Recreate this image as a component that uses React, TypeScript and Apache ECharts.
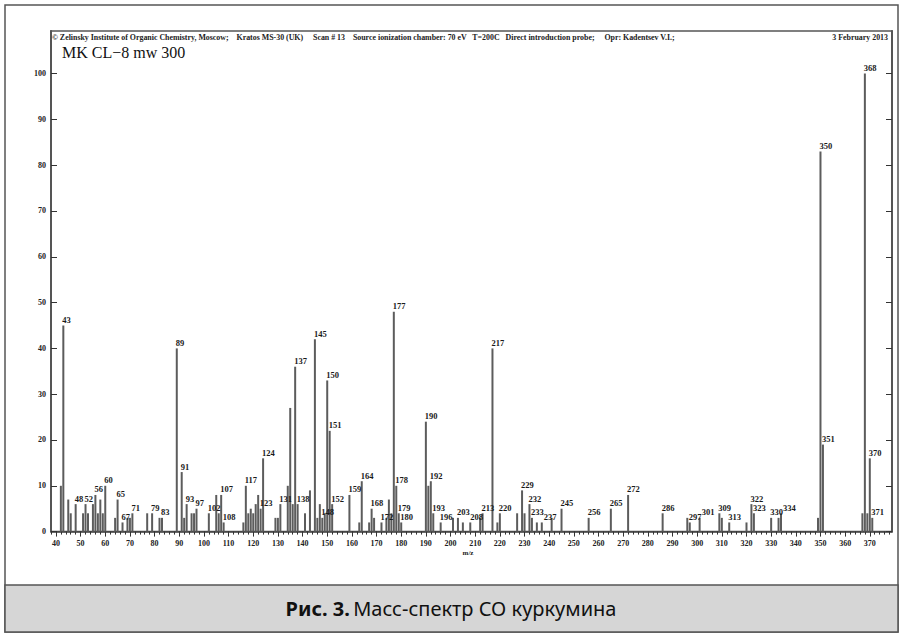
import React, { useEffect, useRef } from "react";
import * as echarts from "echarts";

const MZ = [
  42, 43, 45, 46, 48, 51, 52, 53, 55, 56, 57, 58, 59, 60, 64, 65, 67, 69, 70, 71,
  77, 79, 82, 83, 89, 91, 92, 93, 95, 96, 97, 102, 105, 106, 107, 108, 116, 117,
  118, 119, 120, 121, 122, 123, 124, 129, 130, 131, 134, 135, 136, 137, 138, 141,
  143, 145, 146, 147, 148, 149, 150, 151, 152, 159, 163, 164, 167, 168, 169, 172,
  174, 175, 176, 177, 178, 179, 180, 190, 191, 192, 193, 196, 201, 203, 205, 208,
  212, 213, 217, 219, 220, 227, 229, 230, 232, 233, 235, 237, 241, 245, 256, 265,
  272, 286, 296, 297, 301, 309, 310, 313, 320, 322, 323, 330, 333, 334, 349, 350,
  351, 367, 368, 369, 370, 371,
];
const INTENSITY = [
  10, 45, 7, 4, 6, 4, 6, 4, 6, 8, 4, 7, 4, 10, 3, 7, 2, 3, 3, 4,
  4, 4, 3, 3, 40, 13, 3, 6, 4, 4, 5, 4, 8, 4, 8, 2, 2, 10,
  4, 5, 4, 6, 8, 5, 16, 3, 3, 6, 10, 27, 6, 36, 6, 4,
  9, 42, 3, 6, 3, 4, 33, 22, 6, 8, 2, 11, 2, 5, 3, 2,
  3, 7, 4, 48, 10, 4, 2, 24, 10, 11, 4, 2, 3, 3, 2, 2,
  3, 4, 40, 2, 4, 4, 9, 4, 6, 3, 2, 2, 3, 5, 3, 5,
  8, 4, 3, 2, 3, 4, 3, 2, 2, 6, 4, 3, 3, 4, 3, 83,
  19, 4, 100, 4, 16, 3,
];
const LABELED = [
  43, 48, 52, 56, 60, 65, 67, 71, 79, 83, 89, 91, 93, 97, 102, 107, 108, 117, 123,
  124, 131, 137, 138, 145, 148, 150, 151, 152, 159, 164, 168, 172, 177, 178, 179,
  180, 190, 192, 193, 196, 203, 208, 213, 217, 220, 229, 232, 233, 237, 245, 256,
  265, 272, 286, 297, 301, 309, 313, 322, 323, 330, 334, 350, 351, 368, 370, 371,
];
const X_MAJOR_TICKS = [
  40, 50, 60, 70, 80, 90, 100, 110, 120, 130, 140, 150, 160, 170, 180, 190, 200,
  210, 220, 230, 240, 250, 260, 270, 280, 290, 300, 310, 320, 330, 340, 350, 360, 370,
];
const Y_TICKS = [0, 10, 20, 30, 40, 50, 60, 70, 80, 90, 100];

const HEADER =
  "\u00A9 Zelinsky Institute of Organic Chemistry, Moscow;    Kratos MS-30 (UK)     Scan # 13    Source ionization chamber: 70 eV   T=200C   Direct introduction probe;     Opr: Kadentsev V.I.;";
const DATE = "3 February 2013";
const TITLE = "MK CL\u22128 mw 300";
const X_NAME = "m/z";

const X_MIN = 38;
const X_MAX = 379;
const Y_MAX = 109.3;
const GRID = { left: 51, right: 10, top: 31, bottom: 101.4 };
const W = 902;
const H = 633;
const LABEL_FONT = 8.5;

export default function App() {
  const ref = useRef<HTMLDivElement>(null);
  useEffect(() => {
    if (!ref.current) return;
    const chart = echarts.init(ref.current, undefined, { renderer: "svg" });
    const minor: number[] = [];
    for (let v = X_MIN; v <= X_MAX - 1; v += 2) minor.push(v);

    // approximate pixel mapping, only used to nudge colliding labels sideways
    const plotW = W - GRID.left - GRID.right;
    const plotH = H - GRID.top - GRID.bottom;
    const px = (m: number) => GRID.left + ((m - X_MIN) / (X_MAX - X_MIN)) * plotW;
    const py = (v: number) => H - GRID.bottom - (v / Y_MAX) * plotH;
    const placed: { x0: number; x1: number; y0: number; y1: number }[] = [];

    const data = MZ.map((m, i) => {
      const v = INTENSITY[i];
      const item: any = { value: [m, v] };
      if (LABELED.includes(m)) {
        const txt = String(m);
        const w = txt.length * LABEL_FONT * 0.5;
        const y1 = py(v) - 1;
        const y0 = y1 - (LABEL_FONT - 2);
        let dx = 0;
        const hit = (d: number) =>
          placed.some(
            (b) => px(m) + d < b.x1 && px(m) + d + w > b.x0 && y0 < b.y1 && y1 > b.y0
          );
        while (dx < 6 && hit(dx)) dx += 1;
        placed.push({ x0: px(m) + dx, x1: px(m) + dx + w, y0, y1 });
        item.label = { show: true, formatter: txt, position: [dx, -1] };
      }
      return item;
    });
    const serif = "Liberation Serif";
    chart.setOption({
      animation: false,
      backgroundColor: "#ffffff",
      grid: {
        ...GRID,
        show: true,
        borderColor: "#555",
        borderWidth: 1.5,
        containLabel: false,
      },
      xAxis: [
        {
          type: "value",
          min: X_MIN,
          max: X_MAX,
          position: "bottom",
          axisLine: { show: true, onZero: false, lineStyle: { color: "#444", width: 1.5 } },
          axisTick: { show: true, customValues: X_MAJOR_TICKS, length: 5, lineStyle: { color: "#333", width: 1 } },
          axisLabel: {
            show: true,
            customValues: X_MAJOR_TICKS,
            margin: 8,
            fontFamily: serif,
            fontWeight: "bold",
            fontSize: 8,
            color: "#222",
          },
          splitLine: { show: false },
        },
        {
          type: "value",
          min: X_MIN,
          max: X_MAX,
          position: "bottom",
          axisLine: { show: false, onZero: false },
          axisTick: { show: true, customValues: minor, length: 3, lineStyle: { color: "#333", width: 1 } },
          axisLabel: { show: false },
          splitLine: { show: false },
        },
      ],
      yAxis: [
        {
          type: "value",
          min: 0,
          max: Y_MAX,
          position: "left",
          axisLine: { show: true, onZero: false, lineStyle: { color: "#555", width: 2 } },
          axisTick: { show: true, inside: true, customValues: Y_TICKS, length: 6, lineStyle: { color: "#333", width: 1 } },
          axisLabel: {
            show: true,
            customValues: Y_TICKS,
            margin: 5,
            fontFamily: serif,
            fontWeight: "bold",
            fontSize: 8,
            color: "#222",
          },
          splitLine: { show: false },
        },
        {
          type: "value",
          min: 0,
          max: Y_MAX,
          position: "right",
          axisLine: { show: true, onZero: false, lineStyle: { color: "#555", width: 2 } },
          axisTick: { show: true, inside: true, customValues: Y_TICKS, length: 6, lineStyle: { color: "#333", width: 1 } },
          axisLabel: { show: false },
          splitLine: { show: false },
        },
      ],
      series: [
        {
          type: "bar",
          xAxisIndex: 0,
          yAxisIndex: 0,
          barWidth: 2,
          itemStyle: { color: "#5c5c5c" },
          label: {
            show: false,
            position: [0, -1],
            align: "left",
            verticalAlign: "bottom",
            fontFamily: serif,
            fontWeight: "bold",
            fontSize: LABEL_FONT,
            color: "#1a1a1a",
          },
          labelLayout: { hideOverlap: false },
          data,
        },
      ],
      graphic: [
        {
          type: "rect",
          shape: { x: 5, y: 5, width: 893, height: 627 },
          style: { fill: "none", stroke: "#555", lineWidth: 1.5 },
          silent: true,
        },
        {
          type: "rect",
          shape: { x: 5, y: 585, width: 893, height: 47 },
          style: { fill: "#d6d6d6", stroke: "#555", lineWidth: 1.5 },
          silent: true,
        },
        {
          type: "text",
          x: 52,
          y: 37,
          style: {
            text: HEADER,
            fontFamily: serif,
            fontWeight: "bold",
            fontSize: 7.9,
            fill: "#222",
            verticalAlign: "middle",
            align: "left",
          },
        },
        {
          type: "text",
          x: 888,
          y: 37,
          style: {
            text: DATE,
            fontFamily: serif,
            fontWeight: "bold",
            fontSize: 7.9,
            fill: "#222",
            verticalAlign: "middle",
            align: "right",
          },
        },
        {
          type: "text",
          x: 62,
          y: 52,
          style: {
            text: TITLE,
            fontFamily: serif,
            fontSize: 16,
            fill: "#111",
            verticalAlign: "middle",
            align: "left",
          },
        },
        {
          type: "text",
          x: 468,
          y: 553,
          style: {
            text: X_NAME,
            fontFamily: serif,
            fontWeight: "bold",
            fontSize: 7,
            fill: "#222",
            verticalAlign: "middle",
            align: "center",
          },
        },
        {
          type: "text",
          x: 451,
          y: 608,
          style: {
            text: "{b|Рис. 3.} {r|Масс-спектр СО куркумина}",
            verticalAlign: "middle",
            align: "center",
            rich: {
              b: { fontFamily: "Noto Sans", fontWeight: "bold", fontSize: 20, fill: "#111" },
              r: { fontFamily: "Noto Sans", fontSize: 20, fill: "#111" },
            },
          },
        },
      ],
    });
    return () => chart.dispose();
  }, []);
  return (
    <div
      ref={ref}
      style={{ position: "absolute", left: 0, top: 0, width: W, height: H }}
    />
  );
}
